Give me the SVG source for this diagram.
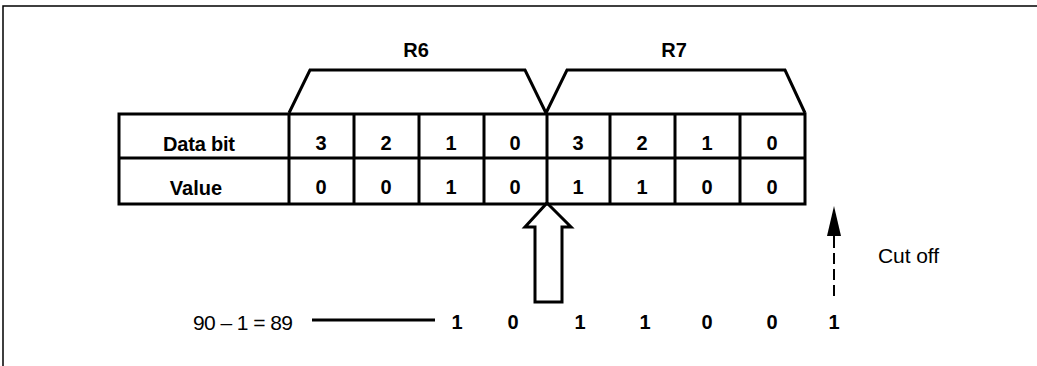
<svg xmlns="http://www.w3.org/2000/svg" width="1037" height="366" viewBox="0 0 1037 366">
<style>
  text { font-family: "Liberation Sans", Arial, sans-serif; fill: #000; }
  .b { font-weight: bold; font-size: 20px; text-anchor: middle; }
  .r { font-size: 21px; }
  .thick { fill: none; stroke: #000; stroke-width: 3; stroke-linejoin: miter; }
  .thin { fill: none; stroke: #000; stroke-width: 1.5; }
</style>
<defs>
  <marker id="ah" viewBox="0 0 30 14" refX="0" refY="7" markerWidth="30" markerHeight="14" markerUnits="userSpaceOnUse" orient="auto">
    <path d="M0,0 L30,7 L0,14 Z" fill="#000"/>
  </marker>
</defs>
<rect width="1037" height="366" fill="#fff"/>
<g id="frame">
  <path class="thin" d="M3,366 V6 H1037"/>
</g>
<g id="brackets">
  <g id="R6">
    <path class="thick" d="M289,113 L310,70 H525 L546,113"/>
    <text class="b" x="416" y="57">R6</text>
  </g>
  <g id="R7">
    <path class="thick" d="M546,113 L567,70 H785 L805,113"/>
    <text class="b" x="674" y="57">R7</text>
  </g>
</g>
<g id="table">
  <rect class="thick" x="119" y="114" width="686" height="90"/>
  <path class="thick" d="M119,158 H805 M289,114 V204 M354,114 V204 M419,114 V204 M484,114 V204 M547,114 V204 M610,114 V204 M675,114 V204 M740,114 V204"/>
  <g id="row-databit">
    <text class="b" x="199" y="151" textLength="72">Data bit</text>
    <text class="b" x="321" y="150">3</text>
    <text class="b" x="386" y="150">2</text>
    <text class="b" x="451" y="150">1</text>
    <text class="b" x="515" y="150">0</text>
    <text class="b" x="578" y="150">3</text>
    <text class="b" x="642" y="150">2</text>
    <text class="b" x="707" y="150">1</text>
    <text class="b" x="772" y="150">0</text>
  </g>
  <g id="row-value">
    <text class="b" x="196" y="195">Value</text>
    <text class="b" x="321" y="194">0</text>
    <text class="b" x="386" y="194">0</text>
    <text class="b" x="451" y="194">1</text>
    <text class="b" x="515" y="194">0</text>
    <text class="b" x="578" y="194">1</text>
    <text class="b" x="642" y="194">1</text>
    <text class="b" x="707" y="194">0</text>
    <text class="b" x="772" y="194">0</text>
  </g>
</g>
<g id="result">
  <text class="r" x="193" y="330" textLength="100">90 – 1 = 89</text>
  <text class="b" x="457" y="329">1</text>
  <text class="b" x="513" y="329">0</text>
  <text class="b" x="580" y="329">1</text>
  <text class="b" x="645" y="329">1</text>
  <text class="b" x="707" y="329">0</text>
  <text class="b" x="772" y="329">0</text>
  <text class="b" x="834" y="329">1</text>
</g>
<g id="cutoff-label">
  <text class="r" x="878" y="263" textLength="61">Cut off</text>
</g>
<g id="connectors">
  <path class="thick" d="M312,320 H435"/>
  <path class="thick" d="M547,203 L571,227 H562 V302 H535 V227 H525 Z"/>
  <path d="M834,296 V236" stroke="#000" stroke-width="2" stroke-dasharray="11,5" fill="none"/>
  <path d="M834,237 V236" stroke="#000" stroke-width="2" fill="none" marker-end="url(#ah)"/>
</g>
</svg>
